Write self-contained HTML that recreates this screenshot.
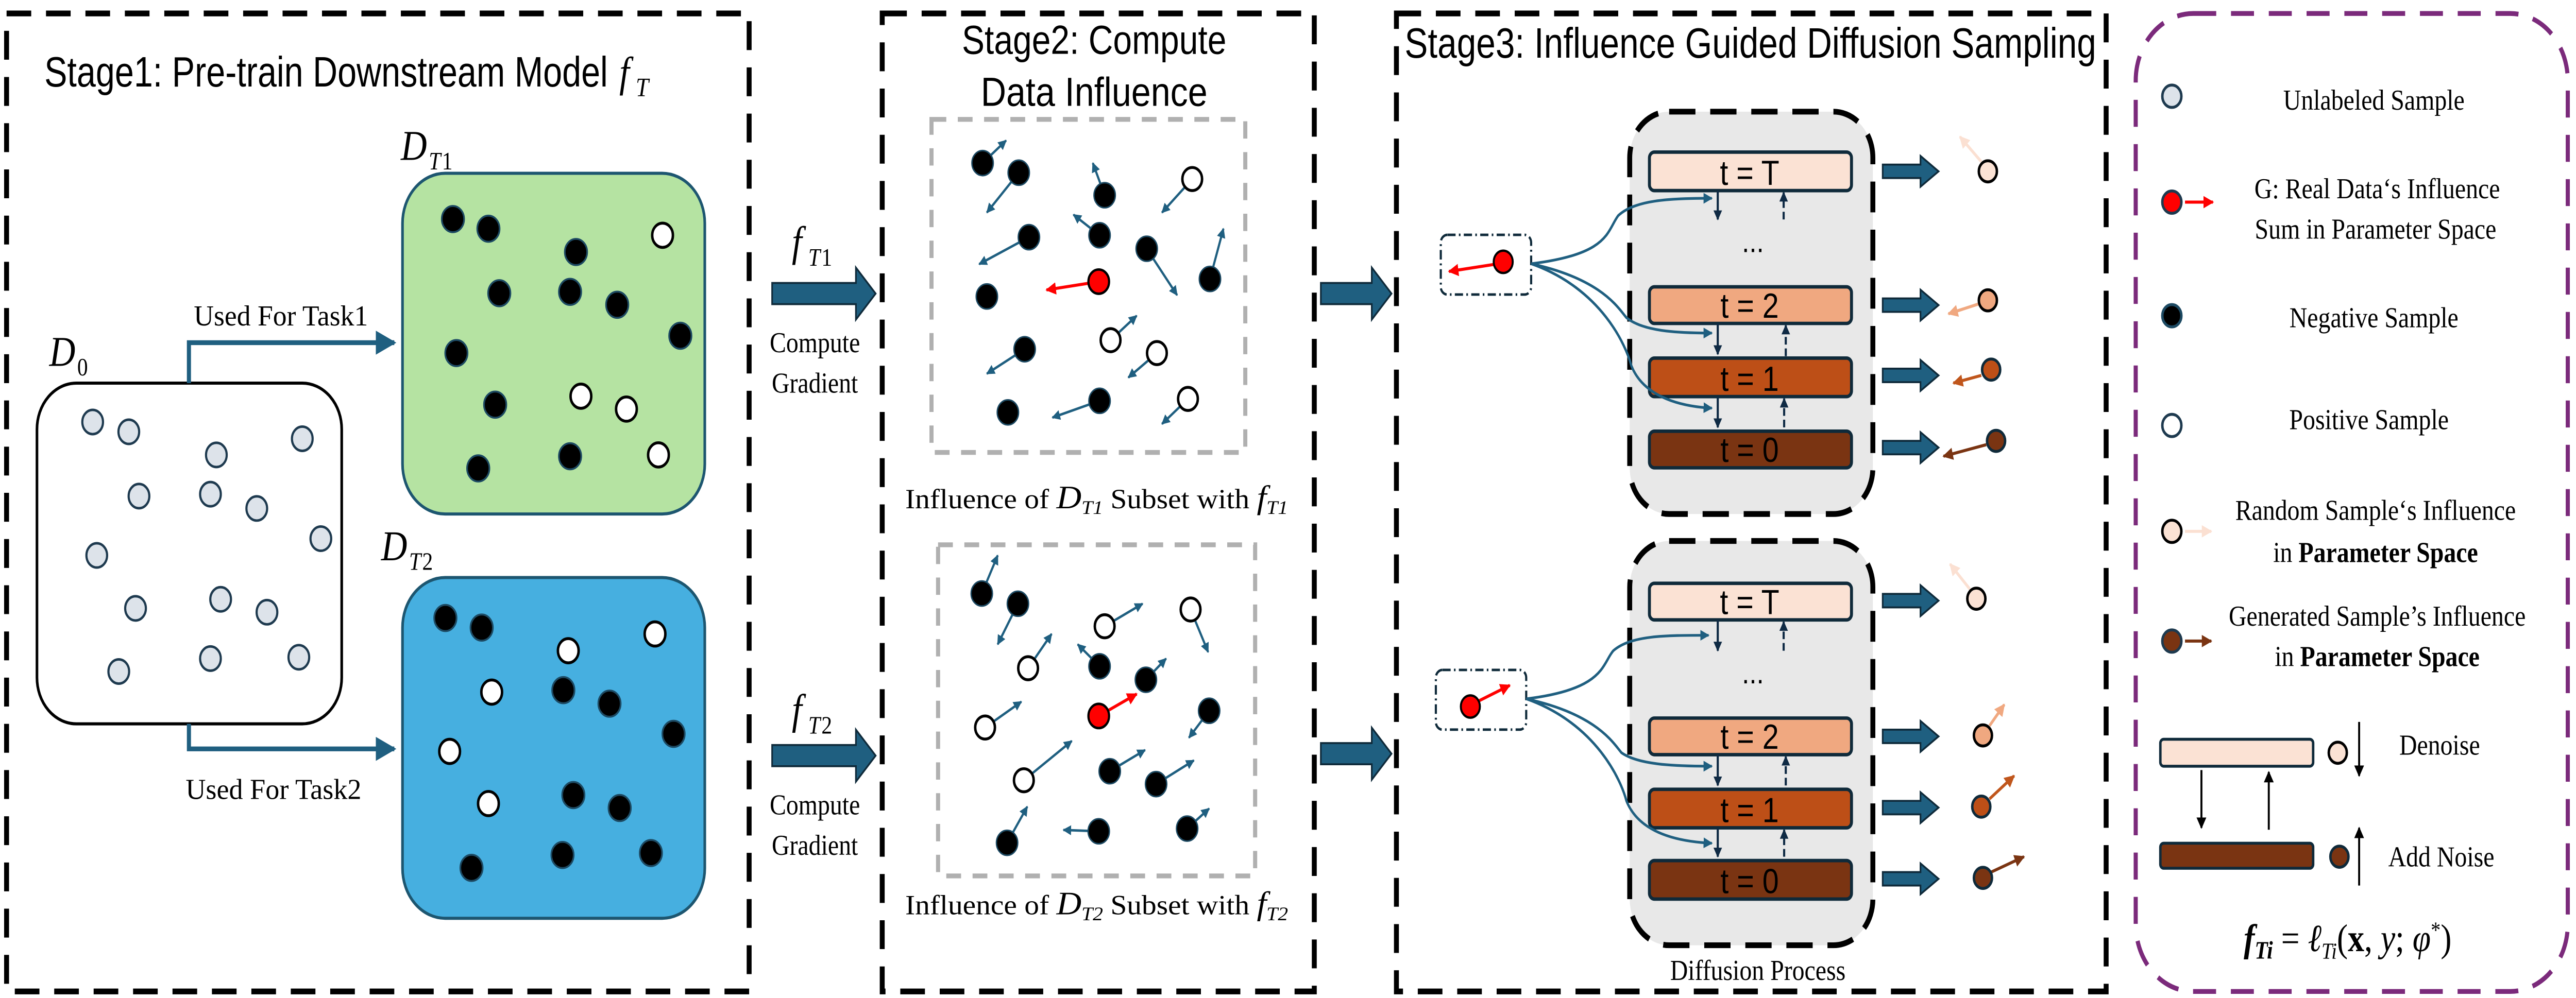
<!DOCTYPE html>
<html><head><meta charset="utf-8"><style>
html,body{margin:0;padding:0;background:#fff;overflow:hidden;width:100%;height:100%;}
svg{display:block;position:fixed;left:0;top:0;width:100vw;height:100vh;}
.ss{font-family:"Liberation Sans",sans-serif;}
.sf{font-family:"Liberation Serif",serif;}
</style></head><body>
<svg viewBox="0 0 1568 518.4" preserveAspectRatio="none" xmlns="http://www.w3.org/2000/svg">
<defs>
<marker id="mb" viewBox="0 0 10 10" refX="9" refY="5" markerWidth="4" markerHeight="4" orient="auto"><path d="M0,0L10,5L0,10z" fill="#1f5f80"/></marker>
<marker id="mr" viewBox="0 0 10 10" refX="9" refY="5" markerWidth="4" markerHeight="4" orient="auto"><path d="M0,0L10,5L0,10z" fill="#f00"/></marker>
<marker id="mk" viewBox="0 0 10 10" refX="9" refY="5" markerWidth="4" markerHeight="4" orient="auto"><path d="M0,0L10,5L0,10z" fill="#0f2a44"/></marker>
<marker id="mk2" viewBox="0 0 10 10" refX="9" refY="5" markerWidth="5" markerHeight="5" orient="auto"><path d="M0,0L10,5L0,10z" fill="#000"/></marker>
<marker id="mp1" viewBox="0 0 10 10" refX="9" refY="5" markerWidth="4" markerHeight="4" orient="auto"><path d="M0,0L10,5L0,10z" fill="#fbe0d2"/></marker>
<marker id="mp2" viewBox="0 0 10 10" refX="9" refY="5" markerWidth="4" markerHeight="4" orient="auto"><path d="M0,0L10,5L0,10z" fill="#f0a880"/></marker>
<marker id="mp3" viewBox="0 0 10 10" refX="9" refY="5" markerWidth="4" markerHeight="4" orient="auto"><path d="M0,0L10,5L0,10z" fill="#c0561c"/></marker>
<marker id="mp4" viewBox="0 0 10 10" refX="9" refY="5" markerWidth="4" markerHeight="4" orient="auto"><path d="M0,0L10,5L0,10z" fill="#7a3412"/></marker>
<marker id="mbig" viewBox="0 0 10 10" refX="9" refY="5" markerWidth="5" markerHeight="5" orient="auto"><path d="M0,0L10,5L0,10z" fill="#1f5f80"/></marker>
</defs>

<g fill="none" stroke="#000" stroke-width="3" stroke-dasharray="15 9">
<rect x="4" y="7" width="452" height="508"/>
<rect x="537" y="7" width="263" height="508"/>
<rect x="850" y="7" width="432" height="508"/>
</g>
<rect x="1300" y="7" width="263" height="508" rx="35" fill="none" stroke="#7b2a7b" stroke-width="2.5" stroke-dasharray="14 9"/>

<text class="ss" x="27" y="45" font-size="22" textLength="343" lengthAdjust="spacingAndGlyphs">Stage1: Pre-train Downstream Model</text>
<text class="sf" x="377" y="45" font-size="22" font-style="italic">f</text><text class="sf" x="387" y="50" font-size="14" font-style="italic">T</text>

<text class="sf" x="30" y="190" font-size="22" font-style="italic">D</text><text class="sf" x="47" y="195" font-size="13">0</text>
<text class="sf" x="244" y="83" font-size="22" font-style="italic">D</text><text class="sf" x="261" y="88" font-size="13" font-style="italic">T</text><text class="sf" x="269" y="88" font-size="13">1</text>
<text class="sf" x="232" y="291" font-size="22" font-style="italic">D</text><text class="sf" x="249" y="296" font-size="13" font-style="italic">T</text><text class="sf" x="257" y="296" font-size="13">2</text>

<rect x="22.5" y="199" width="185.5" height="177" rx="24" fill="#fff" stroke="#000" stroke-width="1.6"/>
<rect x="245" y="90" width="184" height="177" rx="26" fill="#b5e3a2" stroke="#1d5670" stroke-width="1.6"/>
<rect x="245" y="300" width="184" height="177" rx="26" fill="#46afe0" stroke="#1d5670" stroke-width="1.6"/>

<polyline points="115,199 115,178 240,178" fill="none" stroke="#1f5f80" stroke-width="2.5" marker-end="url(#mbig)"/>
<polyline points="115,376 115,389 240,389" fill="none" stroke="#1f5f80" stroke-width="2.5" marker-end="url(#mbig)"/>
<text class="sf" x="118" y="169" font-size="15" textLength="106" lengthAdjust="spacingAndGlyphs">Used For Task1</text>
<text class="sf" x="113" y="415" font-size="15" textLength="107" lengthAdjust="spacingAndGlyphs">Used For Task2</text>

<g fill="#dde3ea" stroke="#1e3a4f" stroke-width="1.3">
<circle cx="56.4" cy="219.2" r="6.3"/><circle cx="78.4" cy="224.3" r="6.3"/><circle cx="131.7" cy="236.3" r="6.3"/><circle cx="184" cy="227.9" r="6.3"/><circle cx="84.6" cy="257.7" r="6.3"/><circle cx="128.1" cy="256.7" r="6.3"/><circle cx="156.3" cy="264.1" r="6.3"/><circle cx="195.3" cy="279.8" r="6.3"/><circle cx="58.9" cy="288.5" r="6.3"/><circle cx="82.5" cy="316" r="6.3"/><circle cx="134.3" cy="311.3" r="6.3"/><circle cx="162.5" cy="318" r="6.3"/><circle cx="72.3" cy="348.8" r="6.3"/><circle cx="128.1" cy="342.1" r="6.3"/><circle cx="181.9" cy="341.4" r="6.3"/>
</g>
<g fill="#000" stroke="#1d4a63" stroke-width="1">
<circle cx="275.7" cy="113.8" r="6.8"/><circle cx="297.3" cy="118.8" r="6.8"/><circle cx="350.6" cy="130.9" r="6.8"/><circle cx="303.9" cy="152.3" r="6.8"/><circle cx="347" cy="151.6" r="6.8"/><circle cx="375.7" cy="158.3" r="6.8"/><circle cx="414.1" cy="174.4" r="6.8"/><circle cx="277.8" cy="183.4" r="6.8"/><circle cx="301.4" cy="210.2" r="6.8"/><circle cx="291.1" cy="243.3" r="6.8"/><circle cx="347" cy="237" r="6.8"/>
<circle cx="271.1" cy="321" r="6.8"/><circle cx="293.2" cy="326" r="6.8"/><circle cx="342.9" cy="358.5" r="6.8"/><circle cx="371" cy="365.5" r="6.8"/><circle cx="410" cy="381.2" r="6.8"/><circle cx="349" cy="413" r="6.8"/><circle cx="377.2" cy="419.7" r="6.8"/><circle cx="287" cy="450.8" r="6.8"/><circle cx="342.4" cy="444.1" r="6.8"/><circle cx="396.2" cy="443.1" r="6.8"/>
</g>
<g fill="#fff" stroke="#000" stroke-width="1.5">
<circle cx="403.3" cy="122.2" r="6.3"/><circle cx="353.6" cy="205.8" r="6.3"/><circle cx="381.3" cy="212.5" r="6.3"/><circle cx="400.8" cy="236.3" r="6.3"/>
<circle cx="398.7" cy="329.3" r="6.3"/><circle cx="345.9" cy="338" r="6.3"/><circle cx="299.3" cy="359.5" r="6.3"/><circle cx="273.7" cy="390.3" r="6.3"/><circle cx="297.3" cy="417.4" r="6.3"/>
</g>

<g fill="#1f5f80" stroke="#0f2a3a" stroke-width="1">
<polygon points="470,147 521,147 521,139 533,152.5 521,166 521,158 470,158"/>
<polygon points="470,387 521,387 521,379 533,392.5 521,406 521,398 470,398"/>
<polygon points="804,147 835,147 835,139 847,152.5 835,166 835,158 804,158"/>
<polygon points="804,386 835,386 835,378 847,391.5 835,405 835,397 804,397"/>
</g>
<text class="sf" x="482" y="133" font-size="22" font-style="italic">f</text><text class="sf" x="492" y="138" font-size="13" font-style="italic">T</text><text class="sf" x="500" y="138" font-size="13">1</text>
<text class="sf" x="482" y="376" font-size="22" font-style="italic">f</text><text class="sf" x="492" y="381" font-size="13" font-style="italic">T</text><text class="sf" x="500" y="381" font-size="13">2</text>
<g class="sf" font-size="15" text-anchor="middle">
<text x="496" y="183">Compute</text><text x="496" y="204">Gradient</text>
<text x="496" y="423">Compute</text><text x="496" y="444">Gradient</text>
</g>

<text class="ss" x="666" y="28" font-size="21" text-anchor="middle" textLength="161" lengthAdjust="spacingAndGlyphs">Stage2: Compute</text>
<text class="ss" x="666" y="55" font-size="21" text-anchor="middle" textLength="138" lengthAdjust="spacingAndGlyphs">Data Influence</text>
<rect x="567" y="62" width="191" height="173" fill="none" stroke="#b0b0b0" stroke-width="2.5" stroke-dasharray="9 7"/>
<rect x="571" y="283" width="193" height="172" fill="none" stroke="#b0b0b0" stroke-width="2.5" stroke-dasharray="9 7"/>
<text class="sf" x="551" y="264" font-size="14.5" textLength="233" lengthAdjust="spacingAndGlyphs">Influence of <tspan font-style="italic" font-size="17">D</tspan><tspan font-size="10" dy="3" font-style="italic">T1</tspan><tspan dy="-3"> Subset  with </tspan><tspan font-style="italic" font-size="17">f</tspan><tspan font-size="10" dy="3" font-style="italic">T1</tspan></text>
<text class="sf" x="551" y="475" font-size="14.5" textLength="233" lengthAdjust="spacingAndGlyphs">Influence of <tspan font-style="italic" font-size="17">D</tspan><tspan font-size="10" dy="3" font-style="italic">T2</tspan><tspan dy="-3"> Subset  with </tspan><tspan font-style="italic" font-size="17">f</tspan><tspan font-size="10" dy="3" font-style="italic">T2</tspan></text>

<g stroke="#1f5f80" stroke-width="1.3" marker-end="url(#mb)">
<line x1="598.1" y1="84.7" x2="612.4" y2="73"/><line x1="620.1" y1="89.7" x2="600.7" y2="110.4"/><line x1="672.4" y1="101.4" x2="665.2" y2="84.7"/><line x1="725.7" y1="93" x2="707.3" y2="110.4"/><line x1="626.3" y1="123.2" x2="596" y2="137.2"/><line x1="669.3" y1="122.2" x2="653.4" y2="111.5"/><line x1="698" y1="129.2" x2="716.5" y2="153.3"/><line x1="736.5" y1="144.9" x2="744.7" y2="118.8"/><line x1="623.7" y1="181.4" x2="600.7" y2="194.1"/><line x1="676" y1="176.7" x2="691.9" y2="164"/><line x1="704.2" y1="183.4" x2="686.8" y2="196.1"/><line x1="669.3" y1="208.2" x2="640.6" y2="216.9"/><line x1="723.1" y1="207.2" x2="707.3" y2="220.2"/>
<line x1="597.6" y1="308.3" x2="607.3" y2="288.5"/><line x1="619.6" y1="313.6" x2="607.3" y2="334.7"/><line x1="672.4" y1="325.3" x2="695.5" y2="313.6"/><line x1="724.7" y1="316.6" x2="735.4" y2="338.7"/><line x1="625.8" y1="347.1" x2="640.1" y2="329.3"/><line x1="669.3" y1="346.1" x2="656" y2="334.7"/><line x1="697.5" y1="353.1" x2="709.8" y2="342.1"/><line x1="736" y1="369.2" x2="723.7" y2="383.2"/><line x1="599.6" y1="377.9" x2="621.7" y2="364.5"/><line x1="623.2" y1="405.3" x2="652.4" y2="384.9"/><line x1="675.5" y1="400.6" x2="697" y2="389.6"/><line x1="703.7" y1="407.3" x2="726.7" y2="395"/><line x1="613" y1="437.8" x2="625.3" y2="419"/><line x1="668.8" y1="431.8" x2="647.3" y2="431.1"/><line x1="722.6" y1="430.4" x2="736" y2="420"/>
</g>
<g stroke="#f00" stroke-width="1.6" marker-end="url(#mr)">
<line x1="668.8" y1="146.3" x2="637" y2="150.6"/><line x1="668.8" y1="371.9" x2="691.9" y2="360.5"/>
</g>
<g fill="#000" stroke="#1d4a63" stroke-width="0.8">
<circle cx="598.1" cy="84.7" r="6.5"/><circle cx="620.1" cy="89.7" r="6.5"/><circle cx="672.4" cy="101.4" r="6.5"/><circle cx="626.3" cy="123.2" r="6.5"/><circle cx="669.3" cy="122.2" r="6.5"/><circle cx="698" cy="129.2" r="6.5"/><circle cx="736.5" cy="144.9" r="6.5"/><circle cx="600.7" cy="154" r="6.5"/><circle cx="623.7" cy="181.4" r="6.5"/><circle cx="613.5" cy="214.2" r="6.5"/><circle cx="669.3" cy="208.2" r="6.5"/>
<circle cx="597.6" cy="308.3" r="6.5"/><circle cx="619.6" cy="313.6" r="6.5"/><circle cx="669.3" cy="346.1" r="6.5"/><circle cx="697.5" cy="353.1" r="6.5"/><circle cx="736" cy="369.2" r="6.5"/><circle cx="675.5" cy="400.6" r="6.5"/><circle cx="703.7" cy="407.3" r="6.5"/><circle cx="613" cy="437.8" r="6.5"/><circle cx="668.8" cy="431.8" r="6.5"/><circle cx="722.6" cy="430.4" r="6.5"/>
</g>
<g fill="#fff" stroke="#000" stroke-width="1.5">
<circle cx="725.7" cy="93" r="6"/><circle cx="676" cy="176.7" r="6"/><circle cx="704.2" cy="183.4" r="6"/><circle cx="723.1" cy="207.2" r="6"/>
<circle cx="672.4" cy="325.3" r="6"/><circle cx="724.7" cy="316.6" r="6"/><circle cx="625.8" cy="347.1" r="6"/><circle cx="599.6" cy="377.9" r="6"/><circle cx="623.2" cy="405.3" r="6"/>
</g>
<g fill="#f00" stroke="#000" stroke-width="1.3">
<circle cx="668.8" cy="146.3" r="6.3"/><circle cx="668.8" cy="371.9" r="6.3"/>
</g>

<text class="ss" x="855" y="30" font-size="22" textLength="421" lengthAdjust="spacingAndGlyphs">Stage3: Influence Guided Diffusion Sampling</text>
<rect x="992" y="58" width="148" height="209" rx="24" fill="#e8e8e8" stroke="#000" stroke-width="3" stroke-dasharray="16 9"/>
<rect x="992" y="281" width="148" height="210" rx="24" fill="#e8e8e8" stroke="#000" stroke-width="3" stroke-dasharray="16 9"/>
<g stroke="#0f2a3a" stroke-width="1.8">
<rect x="1004" y="79" width="123" height="20" rx="3" fill="#fbe2d4"/>
<rect x="1004" y="149" width="123" height="19" rx="3" fill="#f0a880"/>
<rect x="1004" y="186" width="123" height="20" rx="3" fill="#bd4f17"/>
<rect x="1004" y="224" width="123" height="19" rx="3" fill="#7a3412"/>
<rect x="1004" y="303" width="123" height="19" rx="3" fill="#fbe2d4"/>
<rect x="1004" y="373" width="123" height="19" rx="3" fill="#f0a880"/>
<rect x="1004" y="410" width="123" height="20" rx="3" fill="#bd4f17"/>
<rect x="1004" y="447" width="123" height="20" rx="3" fill="#7a3412"/>
</g>
<g class="ss" font-size="18" text-anchor="middle" fill="#000">
<text x="1065" y="96">t = T</text><text x="1065" y="165">t = 2</text><text x="1065" y="203">t = 1</text><text x="1065" y="240">t = 0</text>
<text x="1065" y="319">t = T</text><text x="1065" y="389">t = 2</text><text x="1065" y="427">t = 1</text><text x="1065" y="464">t = 0</text>
<text x="1067" y="131" font-size="16">...</text><text x="1067" y="355" font-size="16">...</text>
</g>
<g stroke="#0f2a44" stroke-width="1.3" marker-end="url(#mk)">
<line x1="1045.6" y1="99" x2="1045.6" y2="114"/><line x1="1045.6" y1="168" x2="1045.6" y2="184"/><line x1="1045.6" y1="206" x2="1045.6" y2="222"/>
<line x1="1045.6" y1="322" x2="1045.6" y2="338"/><line x1="1045.6" y1="392" x2="1045.6" y2="408"/><line x1="1045.6" y1="430" x2="1045.6" y2="445"/>
</g>
<g stroke="#0f2a44" stroke-width="1.3" stroke-dasharray="4 2" marker-end="url(#mk)">
<line x1="1085.7" y1="114" x2="1085.7" y2="100"/><line x1="1087" y1="185" x2="1087" y2="169"/><line x1="1086" y1="222" x2="1086" y2="207"/>
<line x1="1085.7" y1="338" x2="1085.7" y2="323"/><line x1="1087" y1="408" x2="1087" y2="393"/><line x1="1086" y1="445" x2="1086" y2="431"/>
</g>
<rect x="877" y="122" width="55" height="31" rx="4" fill="none" stroke="#0f2a3a" stroke-width="1.3" stroke-dasharray="5 2 1 2"/>
<rect x="874" y="348" width="55" height="31" rx="4" fill="none" stroke="#0f2a3a" stroke-width="1.3" stroke-dasharray="5 2 1 2"/>
<line x1="912" y1="137" x2="882" y2="141" stroke="#f00" stroke-width="1.6" marker-end="url(#mr)"/>
<line x1="898" y1="365" x2="919" y2="356" stroke="#f00" stroke-width="1.6" marker-end="url(#mr)"/>
<circle cx="915" cy="136" r="5.8" fill="#f00" stroke="#000" stroke-width="1.2"/>
<circle cx="895" cy="367" r="5.8" fill="#f00" stroke="#000" stroke-width="1.2"/>
<g fill="none" stroke="#1f5f80" stroke-width="1.4" marker-end="url(#mb)">
<path d="M932,137 C980,132 978,120 985,112 C995,104 1015,103 1042,103"/>
<path d="M932,137 C975,145 985,160 990,165 C1000,172 1020,173 1042,173"/>
<path d="M932,137 C975,150 990,180 993,190 C1000,205 1020,211 1042,212"/>
<path d="M929,363 C977,358 975,345 982,338 C993,330 1013,330 1040,330"/>
<path d="M929,363 C972,371 982,386 987,391 C997,397 1017,398 1042,398"/>
<path d="M929,363 C972,376 987,406 990,416 C997,431 1017,437 1042,438"/>
</g>
<text class="sf" x="1070" y="509" font-size="15" text-anchor="middle">Diffusion Process</text>
<g fill="#1f5f80" stroke="#0f2a3a" stroke-width="1">
<polygon points="1146,85.5 1169,85.5 1169,81 1180,89 1169,97 1169,92.5 1146,92.5"/>
<polygon points="1146,155 1169,155 1169,150.5 1180,158.5 1169,166.5 1169,162 1146,162"/>
<polygon points="1146,191.5 1169,191.5 1169,187 1180,195 1169,203 1169,198.5 1146,198.5"/>
<polygon points="1146,229 1169,229 1169,224.5 1180,232.5 1169,240.5 1169,236 1146,236"/>
<polygon points="1146,308.5 1169,308.5 1169,304 1180,312 1169,320 1169,315.5 1146,315.5"/>
<polygon points="1146,379 1169,379 1169,374.5 1180,382.5 1169,390.5 1169,386 1146,386"/>
<polygon points="1146,416 1169,416 1169,411.5 1180,419.5 1169,427.5 1169,423 1146,423"/>
<polygon points="1146,453 1169,453 1169,448.5 1180,456.5 1169,464.5 1169,460 1146,460"/>
</g>
<g stroke-width="1.6">
<line x1="1206" y1="84" x2="1193" y2="71" stroke="#fbe0d2" marker-end="url(#mp1)"/>
<line x1="1204" y1="158" x2="1186" y2="163" stroke="#f0a880" marker-end="url(#mp2)"/>
<line x1="1206" y1="195" x2="1189" y2="199" stroke="#c0561c" marker-end="url(#mp3)"/>
<line x1="1209" y1="231" x2="1183" y2="237" stroke="#7a3412" marker-end="url(#mp4)"/>
<line x1="1199" y1="306" x2="1187" y2="293" stroke="#fbe0d2" marker-end="url(#mp1)"/>
<line x1="1211" y1="377" x2="1220" y2="366" stroke="#f0a880" marker-end="url(#mp2)"/>
<line x1="1211" y1="415" x2="1226" y2="403" stroke="#c0561c" marker-end="url(#mp3)"/>
<line x1="1212" y1="453" x2="1232" y2="445" stroke="#7a3412" marker-end="url(#mp4)"/>
</g>
<g stroke="#0f2a3a" stroke-width="1.5">
<circle cx="1210" cy="89" r="5.5" fill="#fbe2d4" stroke="#000"/>
<circle cx="1210" cy="156" r="5.5" fill="#f0a880" stroke="#000"/>
<circle cx="1212" cy="192" r="5.5" fill="#bd4f17"/>
<circle cx="1215" cy="229" r="5.5" fill="#7a3412"/>
<circle cx="1203" cy="311" r="5.5" fill="#fbe2d4" stroke="#000"/>
<circle cx="1207" cy="382" r="5.5" fill="#f0a880" stroke="#000"/>
<circle cx="1206" cy="419" r="5.5" fill="#bd4f17"/>
<circle cx="1207" cy="456" r="5.5" fill="#7a3412"/>
</g>

<g stroke-width="1.5">
<circle cx="1322" cy="50" r="5.8" fill="#dde3ea" stroke="#1e3a4f"/>
<line x1="1330" y1="105" x2="1347" y2="105" stroke="#f00" stroke-width="1.6" marker-end="url(#mr)"/>
<circle cx="1322" cy="105" r="5.8" fill="#f00" stroke="#1e3a4f"/>
<circle cx="1322" cy="164" r="5.8" fill="#000" stroke="#1d4a63"/>
<circle cx="1322" cy="221" r="5.8" fill="#fff" stroke="#1e3a4f"/>
<line x1="1330" y1="276" x2="1346" y2="276" stroke="#fbe0d2" stroke-width="1.6" marker-end="url(#mp1)"/>
<circle cx="1322" cy="276" r="5.8" fill="#fbe2d4" stroke="#000"/>
<line x1="1330" y1="333" x2="1346" y2="333" stroke="#7a3412" stroke-width="1.6" marker-end="url(#mp4)"/>
<circle cx="1322" cy="333" r="5.8" fill="#7a3412" stroke="#1e3a4f"/>
</g>
<g class="sf" font-size="15" text-anchor="middle">
<text x="1445" y="57">Unlabeled Sample</text>
<text x="1447" y="103">G: Real Data‘s Influence</text>
<text x="1446" y="124">Sum in Parameter Space</text>
<text x="1445" y="170">Negative Sample</text>
<text x="1442" y="223">Positive Sample</text>
<text x="1446" y="270">Random Sample‘s Influence</text>
<text x="1446" y="292">in <tspan font-weight="bold">Parameter Space</tspan></text>
<text x="1447" y="325">Generated Sample’s Influence</text>
<text x="1447" y="346">in <tspan font-weight="bold">Parameter Space</tspan></text>
<text x="1485" y="392">Denoise</text>
<text x="1486" y="450">Add Noise</text>
</g>
<rect x="1315" y="384" width="93" height="14" rx="2" fill="#fbe2d4" stroke="#0f2a3a" stroke-width="1.5"/>
<rect x="1315" y="438" width="93" height="13" rx="2" fill="#7a3412" stroke="#0f2a3a" stroke-width="1.5"/>
<circle cx="1423" cy="391" r="5.5" fill="#fbe2d4" stroke="#000" stroke-width="1.5"/>
<circle cx="1424" cy="445" r="5.5" fill="#7a3412" stroke="#0f2a3a" stroke-width="1.5"/>
<g stroke="#000" stroke-width="1.2" marker-end="url(#mk2)">
<line x1="1436" y1="375" x2="1436" y2="403"/>
<line x1="1436" y1="460" x2="1436" y2="430"/>
<line x1="1340" y1="400" x2="1340" y2="430"/>
<line x1="1381" y1="431" x2="1381" y2="401"/>
</g>
<text class="sf" x="1429" y="494" font-size="20" text-anchor="middle"><tspan font-style="italic" font-weight="bold">f</tspan><tspan font-size="13" dy="4" font-style="italic" font-weight="bold">Ti</tspan><tspan dy="-4"> = </tspan><tspan font-style="italic">ℓ</tspan><tspan font-size="12" dy="4" font-style="italic">Ti</tspan><tspan dy="-4">(</tspan><tspan font-weight="bold">x</tspan><tspan>, </tspan><tspan font-style="italic">y</tspan><tspan>; </tspan><tspan font-style="italic">φ</tspan><tspan font-size="12" dy="-7">*</tspan><tspan dy="7">)</tspan></text>
</svg>
</body></html>
